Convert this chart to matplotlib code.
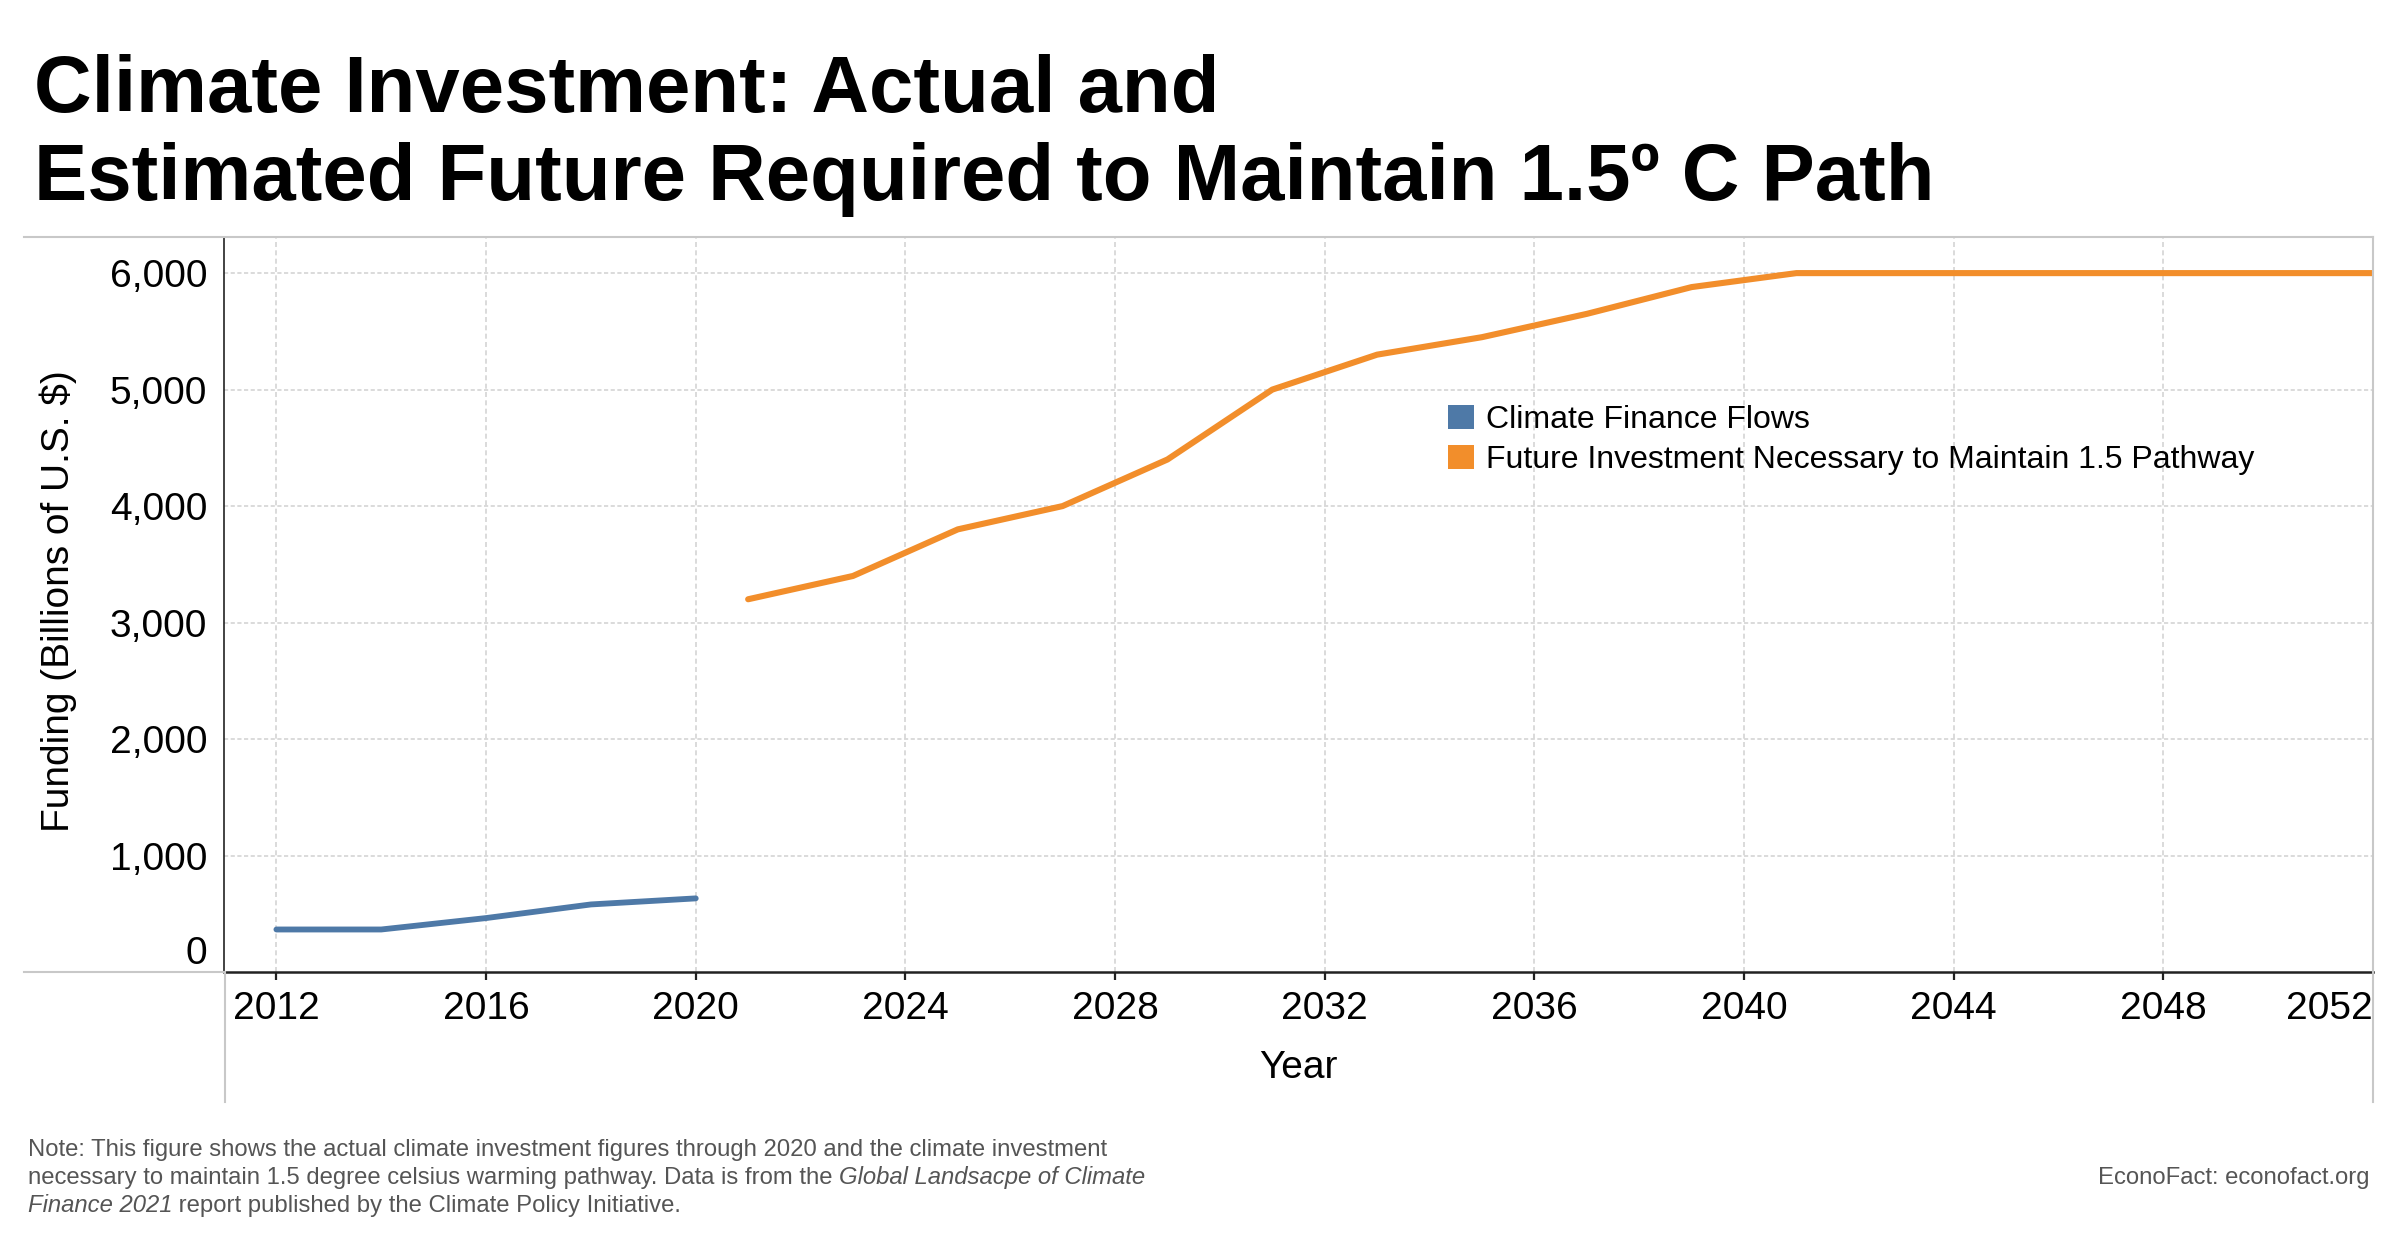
import matplotlib
matplotlib.use('Agg')
import matplotlib.pyplot as plt
from matplotlib.lines import Line2D
from matplotlib.patches import Patch
from matplotlib.ticker import FuncFormatter

plt.rcParams['font.family'] = ['Liberation Sans', 'DejaVu Sans']

# climate finance flows (billions of U.S. $)
actual_years = [2012, 2014, 2016, 2018, 2020]
actual_vals = [365, 365, 463, 580, 632]

# future investment necessary to maintain the 1.5 pathway
future_years = [2021, 2023, 2025, 2027, 2029, 2031, 2033, 2035, 2037, 2039, 2041,
                2043, 2045, 2047, 2049, 2051, 2053]
future_vals = [3200, 3400, 3800, 4000, 4400, 5000, 5300, 5450, 5650, 5880, 6000,
               6000, 6000, 6000, 6000, 6000, 6000]

x_ticks = list(range(2012, 2053, 4))
y_ticks = [0, 1000, 2000, 3000, 4000, 5000, 6000]

series_names = ['Climate Finance Flows', 'Future Investment Necessary to Maintain 1.5 Pathway']
BLUE = '#4E79A7'
ORANGE = '#F28E2B'
GRID = '#d4d4d4'
FRAME = '#c8c8c8'
NOTE = '#555555'

W, H = 2400, 1260
fig = plt.figure(figsize=(12, 6.3), dpi=200)

# axes box in pixel terms of the reference
L, R, T, B = 224, 2373, 237, 972
ax = fig.add_axes([L / W, 1 - B / H, (R - L) / W, (B - T) / H])

ax.plot(actual_years, actual_vals, color=BLUE, lw=2.1, solid_capstyle='round', zorder=3)
ax.plot(future_years, future_vals, color=ORANGE, lw=2.2, solid_capstyle='round', zorder=3)

ax.set_xlim(2011, 2052)
ax.set_ylim(0, 6310)
ax.set_xticks(x_ticks)
ax.set_yticks(y_ticks)
ax.yaxis.set_major_formatter(FuncFormatter(lambda v, p: '{:,.0f}'.format(v)))

ax.tick_params(axis='x', length=3, width=0.8, color='#222222', pad=4, labelsize=14)
ax.tick_params(axis='y', length=0, pad=6, labelsize=14)

# tableau-style label nudges at the edges
fig.canvas.draw()
ax.get_yticklabels()[0].set_verticalalignment('bottom')
ax.get_xticklabels()[-1].set_horizontalalignment('right')
ax.xaxis.get_major_ticks()[-1].tick1line.set_visible(False)

# gridlines
for yv in y_ticks[1:]:
    ax.axhline(yv, color=GRID, lw=0.6, ls=(0, (2.5, 1.5)), zorder=1)
for xv in x_ticks[:-1]:
    ax.axvline(xv, color=GRID, lw=0.6, ls=(0, (3, 2)), zorder=1)

for s in ['top', 'right']:
    ax.spines[s].set_visible(False)
ax.spines['left'].set_color('#222222')
ax.spines['left'].set_linewidth(0.6)
ax.spines['bottom'].set_color('#222222')
ax.spines['bottom'].set_linewidth(0.9)

# outer light frame lines
def fline(x0, y0, x1, y1):
    fig.add_artist(Line2D([x0 / W, x1 / W], [1 - y0 / H, 1 - y1 / H],
                          color=FRAME, lw=0.75, transform=fig.transFigure))

fline(24, T, R, T)
fline(R, T, R, 1102)
fline(24, B, L, B)
fline(L + 1, B, L + 1, 1102)

# legend
handles = [Patch(facecolor=BLUE, edgecolor='none'), Patch(facecolor=ORANGE, edgecolor='none')]
ax.legend(handles, series_names, loc='upper left', bbox_to_anchor=(1448 / W, 1 - 405 / H),
          bbox_transform=fig.transFigure, frameon=False, fontsize=11.5,
          handlelength=0.8, handleheight=0.8, handletextpad=0.4, labelspacing=0.3,
          borderpad=0, borderaxespad=0)

# axis titles
fig.text(58 / W, 1 - 601 / H, 'Funding (Billions of U.S. $)', rotation=90,
         ha='center', va='center', fontsize=14)
fig.text((L + R) / 2 / W, 1 - 1068 / H, 'Year', ha='center', va='center', fontsize=14)

# title
fig.text(34 / W, 1 - 112 / H, 'Climate Investment: Actual and', fontsize=28.7,
         fontweight='bold', va='baseline')
fig.text(34 / W, 1 - 200 / H, 'Estimated Future Required to Maintain 1.5\u00ba C Path',
         fontsize=28.7, fontweight='bold', va='baseline')

# footnote with italic parts
renderer = fig.canvas.get_renderer()
note_lines = [
    [('Note: This figure shows the actual climate investment figures through 2020 and the climate investment', 'normal')],
    [('necessary to maintain 1.5 degree celsius warming pathway. Data is from the ', 'normal'),
     ('Global Landsacpe of Climate', 'italic')],
    [('Finance 2021', 'italic'), (' report published by the Climate Policy Initiative.', 'normal')],
]
note_base = [1156, 1184, 1212]
for pieces, yb in zip(note_lines, note_base):
    x = 28
    for txt, style in pieces:
        t = fig.text(x / W, 1 - yb / H, txt, fontsize=8.6, color=NOTE, style=style,
                     va='baseline', ha='left')
        bb = t.get_window_extent(renderer=renderer)
        x += bb.width
fig.text(2369 / W, 1 - 1184 / H, 'EconoFact: econofact.org', fontsize=8.6, color=NOTE,
         ha='right', va='baseline')

fig.savefig('out.png', dpi=200)
